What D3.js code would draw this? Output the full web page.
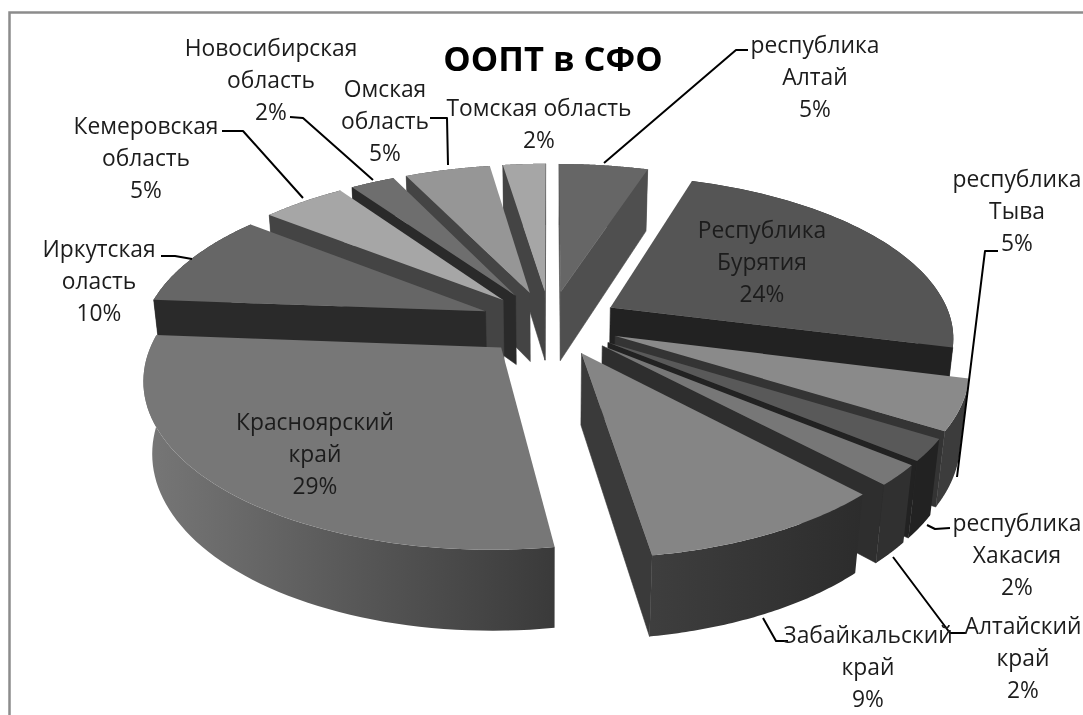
<!DOCTYPE html>
<html><head><meta charset="utf-8">
<script src="https://cdn.jsdelivr.net/npm/d3@7"></script>
<style>html,body{margin:0;padding:0;background:#fff}svg{display:block;filter:blur(0.45px)}</style>
</head><body><svg id="c" width="1083" height="715"></svg>
<script>
// --- data ---
const regions = ["республика Алтай","Республика Бурятия","республика Тыва","республика Хакасия","Алтайский край","Забайкальский край","Красноярский край","Иркутская оласть","Кемеровская область","Новосибирская область","Омская область","Томская область"];
const shares = [5,24,4.9,2.1,2,9.6,28.6,9.4,4.7,2.5,4.8,2.4];
const percentLabels = ["5%","24%","5%","2%","2%","9%","29%","10%","5%","2%","5%","2%"];
const titleText = "ООПТ в СФО";
// --- styles ---
const topGrey  = ["#666666","#555555","#8a8a8a","#595959","#777777","#858585","#777777","#666666","#a6a6a6","#6e6e6e","#969696","#a6a6a6"];
const wallGrey = ["#4f4f4f","#222222","#343434","#222222","#2e2e2e","#3a3a3a","#444444","#2a2a2a","#444444","#2a2a2a","#444444","#444444"];
const outerFrom= ["#4f4f4f","#222222","#3c3c3c","#222222","#303030","#3e3e3e","#777777","#2a2a2a","#444444","#2a2a2a","#444444","#444444"];
const outerTo  = ["#4f4f4f","#222222","#3c3c3c","#222222","#303030","#2c2c2c","#3a3a3a","#2a2a2a","#444444","#2a2a2a","#444444","#444444"];
const labelLines = [["республика","Алтай"],["Республика","Бурятия"],["республика","Тыва"],["республика","Хакасия"],["Алтайский","край"],["Забайкальский","край"],["Красноярский","край"],["Иркутская","оласть"],["Кемеровская","область"],["Новосибирская","область"],["Омская","область"],["Томская область"]];
const labelCentre = [[815,52.5],[762,237.5],[1017,186.5],[1017,530.5],[1023,633.5],[868,642.5],[315,429.5],[99,256.5],[146,133.5],[271,55.5],[385,96.5],[539,115.5]];
const leaderRoute = [
 [[604,163],[736,50],[748,50]], null,
 [[957,477],[985,251],[998,251]],
 [[927,525],[935,529],[950,528]],
 [[893,557],[950,633],[966,633]],
 [[763,618],[776,641],[788,641]],
 null,
 [[192,259],[175,256],[161,256]],
 [[303,198],[243,131],[222,131]],
 [[373,180],[303,118],[290,117]],
 [[448,165],[447,118],[430,118]],
 null];
// --- geometry ---
const cx=550, cy=323, R=342, EXPL=70, H=81, sinT=.465, cosT=Math.sqrt(1-sinT*sinT), D=1800;
function proj(X,Y,Z){
  const xc=X, yc=Y*sinT-Z*cosT, zc=D-Y*cosT-Z*sinT;
  return [cx+D*xc/zc, cy+D*yc/zc];
}
const pie=d3.pie().sort(null).value(d=>d)(shares);
const svg=d3.select("#c");
const defs=svg.append("defs");
const path=d3.line();
svg.append("path").attr("d","M9.5,715V12.5H1083").attr("fill","none").attr("stroke","#8c8c8c").attr("stroke-width",2.5);

const slices=pie.map((p,i)=>{
  const mid=(p.startAngle+p.endAngle)/2;
  const ox=EXPL*Math.sin(mid), oy=-EXPL*Math.cos(mid);
  const pt=(a,r,z)=>proj(ox+r*Math.sin(a),oy-r*Math.cos(a),z);
  return {i,p,mid,ox,oy,pt};
}).sort((a,b)=>a.oy-b.oy);
function area(q){let s=0;for(let k=0;k<q.length;k++){const a=q[k],b=q[(k+1)%q.length];s+=a[0]*b[1]-b[0]*a[1];}return s;}

slices.forEach(s=>{
  const {i,p,pt}=s;
  const g=svg.append("g").attr("class","slice");
  const aS=p.startAngle,aE=p.endAngle;
  const quad=a=>[pt(a,0,0),pt(a,R,0),pt(a,R,-H),pt(a,0,-H)];
  const qs=quad(aS), qe=quad(aE);
  if(area(qs)<0) g.append("path").attr("d",path(qs)+"Z").attr("fill",wallGrey[i]).attr("stroke",wallGrey[i]).attr("stroke-width",.6);
  if(area(qe)>0) g.append("path").attr("d",path(qe)+"Z").attr("fill",wallGrey[i]).attr("stroke",wallGrey[i]).attr("stroke-width",.6);
  const arc=d3.range(0,61).map(k=>aS+(aE-aS)*k/60);
  const topArc=arc.map(a=>pt(a,R,0)), botArc=arc.map(a=>pt(a,R,-H));
  const xs=topArc.map(d=>d[0]);
  const gid="w"+i;
  const lg=defs.append("linearGradient").attr("id",gid).attr("gradientUnits","userSpaceOnUse")
    .attr("x1",d3.min(xs)).attr("x2",d3.max(xs)).attr("y1",0).attr("y2",0);
  lg.append("stop").attr("offset",0).attr("stop-color",outerFrom[i]);
  lg.append("stop").attr("offset",1).attr("stop-color",outerTo[i]);
  g.append("path").attr("d",path(topArc.concat(botArc.slice().reverse()))+"Z").attr("fill",`url(#${gid})`);
  g.append("path").attr("d",path([pt(0,0,0)].concat(topArc))+"Z").attr("fill",topGrey[i]);
});
// leaders
leaderRoute.forEach(r=>{ if(r) svg.append("path").attr("d",path(r)).attr("fill","none").attr("stroke","#000").attr("stroke-width",2).attr("stroke-linejoin","round");});
// labels
const font="'Open Sans',sans-serif", LH=32.4;
labelLines.forEach((lines,i)=>{
  const t=svg.append("text").attr("font-family",font).attr("font-size",22.8).attr("fill","#1c1c1c").attr("text-anchor","middle");
  lines.concat(percentLabels[i]).forEach((l,k)=>{
    t.append("tspan").attr("x",labelCentre[i][0]).attr("y",labelCentre[i][1]+k*LH).text(l);
  });
});
svg.append("text").attr("x",553).attr("y",70.5).attr("text-anchor","middle").attr("font-family",font).attr("font-weight",700).attr("font-size",34.5).attr("fill","#000").text(titleText);
</script></body></html>
